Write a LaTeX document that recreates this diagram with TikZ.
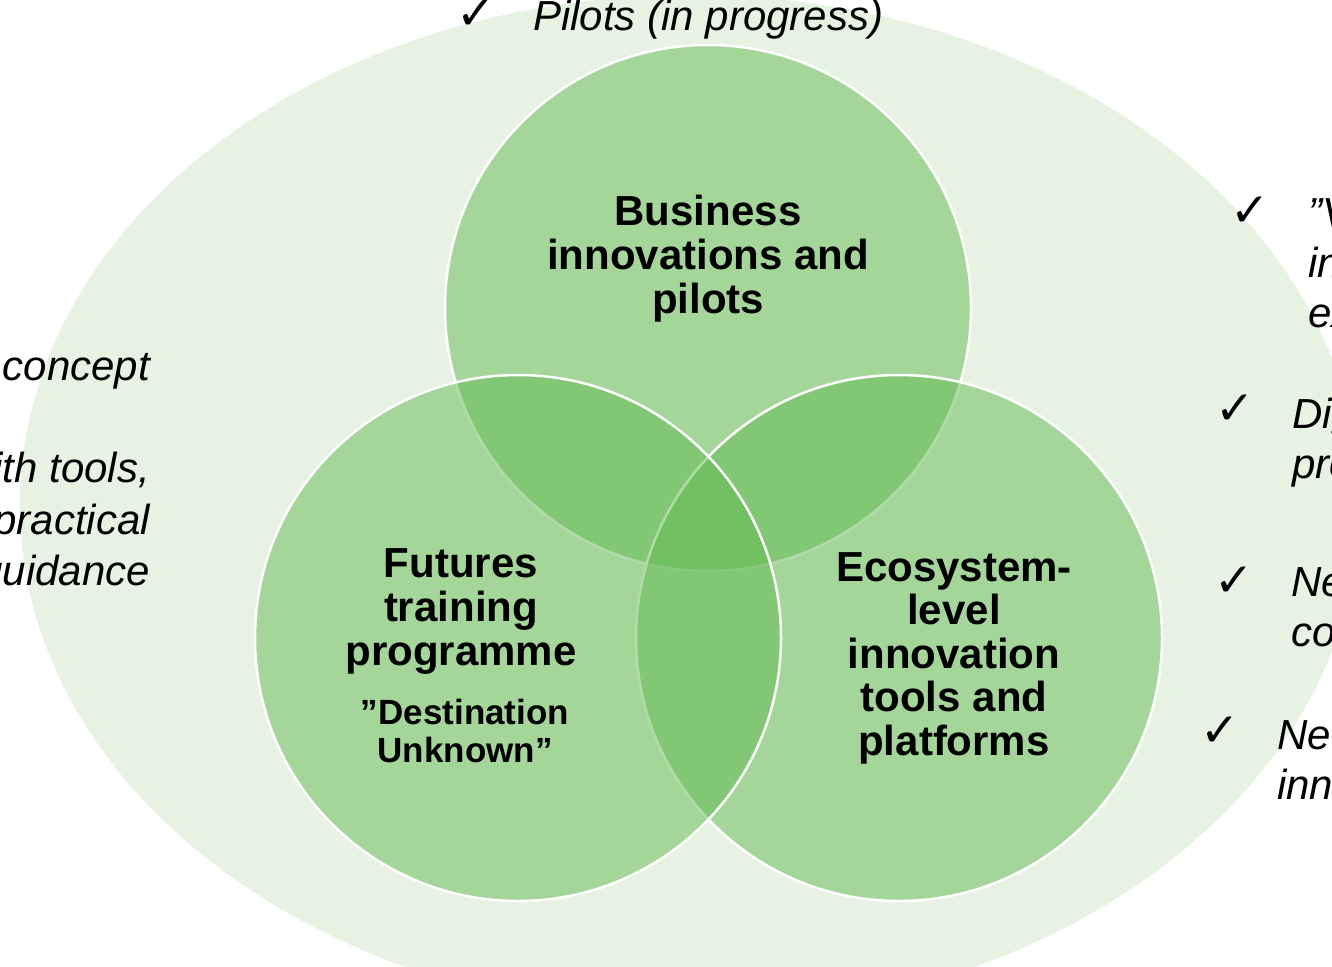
\documentclass[tikz,border=0pt]{standalone}
\usepackage{fontspec}
\setmainfont{Liberation Sans}
\newfontfamily\symfont{DejaVu Sans}
\definecolor{bgG}{RGB}{232,242,226}
\definecolor{circG}{RGB}{97,186,81}
\tikzset{
  venn/.style={circle, minimum size=526pt, inner sep=0pt, outer sep=0pt,
    fill=circG, fill opacity=0.5, draw=white, line width=2.5pt},
  headlbl/.style={font=\bfseries\fontsize{42}{44}\selectfont, align=center, inner sep=0pt},
  sublbl/.style={font=\bfseries\fontsize{35}{38}\selectfont, align=center, inner sep=0pt},
  itl/.style={font=\itshape\fontsize{42}{50}\selectfont, inner sep=0pt},
  tick/.style={font=\symfont\fontsize{47}{47}\selectfont, inner sep=0pt},
}
\begin{document}
\begin{tikzpicture}[x=1pt,y=-1pt]
\useasboundingbox (0,0) rectangle (1332,966);
\fill[white] (0,0) rectangle (1332,966);
\clip (0,0) rectangle (1332,966);
% outer ellipse
\fill[bgG] (690,505) ellipse [x radius=670, y radius=510];
% circles
\node[venn] (cTop) at (708,308) {};
\node[venn] (cRight) at (899,638) {};
\node[venn] (cLeft) at (518,638) {};
% circle labels
\node[headlbl] (tLbl) at (708,258.5) {Business\\innovations and\\pilots};
\node[headlbl] (lLbl) at (461,611.5) {Futures\\training\\programme};
\node[sublbl] (lSub) at (465,730.5) {”Destination\\Unknown”};
\node[headlbl, font=\bfseries\fontsize{42}{43.5}\selectfont] (rLbl) at (954,658)
  {Ecosystem-\\level\\innovation\\tools and\\platforms};
% top item
\node[tick] (k0) at (476,15) {✓};
\node[itl, anchor=base west] (pil) at (533,31) {Pilots (in progress)};
% left items
\node[itl, anchor=base east] (lc) at (150,380) {concept};
\node[itl, anchor=north east, align=right, font=\itshape\fontsize{42}{51.5}\selectfont] (lw) at (150,452)
  {with tools,\\practical\\guidance};
% right items
\node[tick] (k1) at (1250,211.5) {✓};
\node[itl, anchor=north west, align=left] (r1) at (1308,198) {”V\\in\\ex};
\node[tick] (k2) at (1235,410) {✓};
\node[itl, anchor=north west, align=left] (r2) at (1292,398) {Dig\\pro};
\node[tick] (k3) at (1234,582) {✓};
\node[itl, anchor=north west, align=left] (r3) at (1291,567) {Ne\\co};
\node[tick] (k4) at (1220,732) {✓};
\node[itl, anchor=north west, align=left] (r4) at (1277,720) {Ne\\inn};
\end{tikzpicture}
\end{document}
